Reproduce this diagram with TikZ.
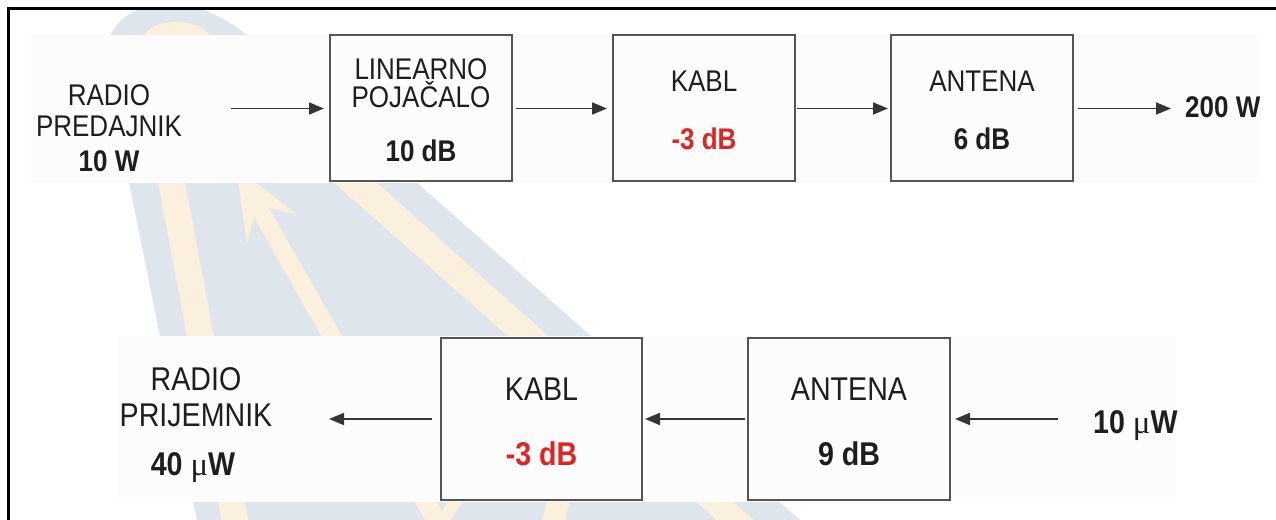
\documentclass[tikz,border=0pt]{standalone}
\usepackage{fontspec}
\setmainfont{Liberation Sans}[FakeStretch=0.87]
\newfontfamily\mufont{Liberation Serif}
\usetikzlibrary{arrows.meta}
\definecolor{wmblue}{HTML}{DFE5ED}
\definecolor{wmyellow}{HTML}{FBF0DD}
\definecolor{bandgray}{HTML}{FCFCFC}
\definecolor{boxline}{HTML}{555555}
\definecolor{txt}{HTML}{1E1E1E}
\definecolor{redtxt}{HTML}{E02424}
\tikzset{
  block/.style={draw=boxline, line width=2bp, fill=bandgray, inner sep=0pt},
  lblA/.style={anchor=base, inner sep=0pt, text=txt, font=\fontsize{30}{34}\selectfont},
  lblB/.style={anchor=base, inner sep=0pt, text=txt, font=\fontsize{33}{38}\selectfont},
  conn/.style={draw=txt!90, line width=1.7bp, -{Triangle[length=15bp,width=12bp]}},
}
\begin{document}
\begin{tikzpicture}[x=1bp,y=-1bp]
\useasboundingbox (0,0) rectangle (1276,520);
\clip (0,0) rectangle (1276,520);
% watermark
\begin{scope}
\clip (9,9) rectangle (1276,520);
\fill[wmblue] (110,36) .. controls (118,18) and (135,9) .. (150,6) -- (190,6)
  .. controls (215,12) and (235,25) .. (248,36) -- (416,182) -- (800,520) -- (197,520) -- (129,182) -- cycle;
\fill[wmyellow] (142,40) .. controls (148,16) and (206,16) .. (212,40) -- cycle;
\fill[wmyellow] (155.7,170) -- (182.7,170) -- (248.5,520) -- (221.5,520) -- cycle;
\fill[wmyellow] (236,167) -- (296,214) -- (269,208) -- (447,520) -- (425,520) -- (254,217) -- (247,243) -- cycle;
\fill[wmyellow] (450.8,498) -- (465.8,498) -- (450.4,520) -- (435.4,520) -- cycle;
\fill[wmyellow] (548,498) -- (571,498) -- (565,520) -- (542,520) -- cycle;
\fill[wmyellow] (319.4,170) -- (362.6,170) -- (753.5,520) -- (717,520) -- cycle;
\end{scope}
% bands
\fill[bandgray] (31,35) rectangle (1261,183);
\fill[bandgray] (118,336) rectangle (1176,502);
% row 1 boxes
\node[block, minimum width=182bp, minimum height=146bp] (lin) at (421,108.5) {};
\node[block, minimum width=182bp, minimum height=146bp] (kab1) at (704,108.5) {};
\node[block, minimum width=182bp, minimum height=146bp] (ant1) at (982,108.5) {};
% row 2 boxes
\node[block, minimum width=201bp, minimum height=162bp] (kab2) at (541.5,419) {};
\node[block, minimum width=202bp, minimum height=162bp] (ant2) at (849,419) {};
% row 1 texts
\node[lblA] (tx1) at (109,106) {RADIO};
\node[lblA] (tx2) at (109,137) {PREDAJNIK};
\node[lblA] (tx3) at (109,172) {\bfseries 10 W};
\node[lblA] (lin1) at (421,80) {LINEARNO};
\node[lblA] (lin2) at (421,108) {POJAČALO};
\node[lblA] (lin3) at (421,162) {\bfseries 10 dB};
\node[lblA] (kab1a) at (704,92) {KABL};
\node[lblA, text=redtxt] (kab1b) at (704,150) {\bfseries -3 dB};
\node[lblA] (ant1a) at (982,92) {ANTENA};
\node[lblA] (ant1b) at (982,150) {\bfseries 6 dB};
\node[lblA, anchor=base west] (out1) at (1185,118) {\bfseries 200 W};
% row 2 texts
\node[lblB] (rx1) at (196,390) {RADIO};
\node[lblB] (rx2) at (196,426) {PRIJEMNIK};
\node[lblB] (rx3) at (193,475) {\bfseries 40 {\mdseries\mufont μ}W};
\node[lblB] (kab2a) at (541.5,400) {KABL};
\node[lblB, text=redtxt] (kab2b) at (541.5,465) {\bfseries -3 dB};
\node[lblB] (ant2a) at (849,400) {ANTENA};
\node[lblB] (ant2b) at (849,465) {\bfseries 9 dB};
\node[lblB, anchor=base west] (in2) at (1093,433) {\bfseries 10 {\mdseries\mufont μ}W};
% connector ends
\coordinate (s1) at (231,108.5);
\coordinate (e4) at (1171,108.5);
\coordinate (s5) at (1058,419);
\coordinate (e7) at (329,419);
% row 1 arrows
\draw[conn, shorten >=5bp] (s1) -- (lin.west);
\draw[conn, shorten <=3bp, shorten >=5bp] (lin.east) -- (kab1.west);
\draw[conn, shorten <=1bp, shorten >=2bp] (kab1.east) -- (ant1.west);
\draw[conn, shorten <=4bp] (ant1.east) -- (e4);
% row 2 arrows
\draw[conn, shorten >=4bp] (s5) -- (ant2.east);
\draw[conn, shorten <=2bp, shorten >=2bp] (ant2.west) -- (kab2.east);
\draw[conn, shorten <=8bp] (kab2.west) -- (e7);
% frame
\draw[line width=2.5bp, black] (8.5,8.5) rectangle (1300,560);
\end{tikzpicture}
\end{document}
